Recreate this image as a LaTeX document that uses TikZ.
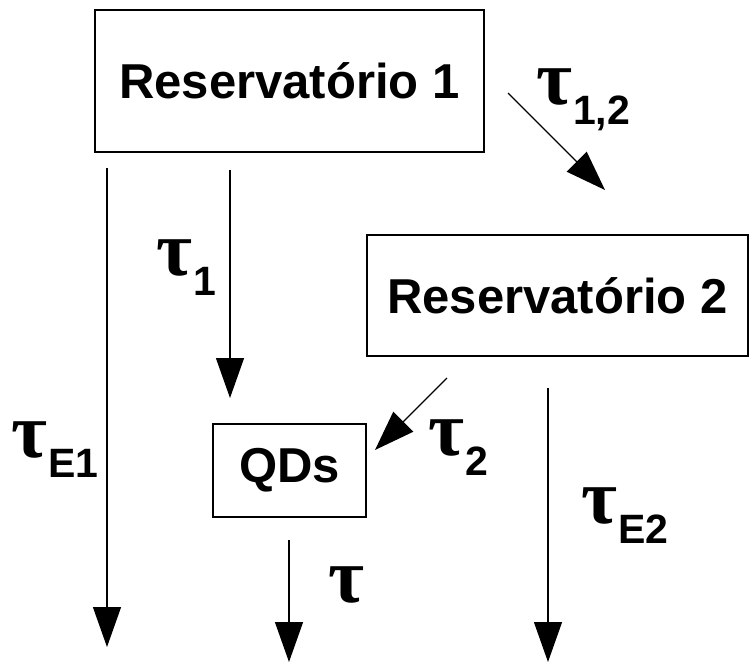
\documentclass[tikz,border=0pt]{standalone}
\usepackage{fontspec}
\setmainfont{Liberation Sans}
\newfontfamily\taufont{Liberation Serif}
\usetikzlibrary{arrows.meta}

\newcommand{\taulab}[1]{{\taufont\bfseries\fontsize{78}{78}\selectfont τ}\kern1pt\raisebox{-20pt}{\fontsize{41}{41}\selectfont\bfseries #1}}

\begin{document}
\begin{tikzpicture}[x=1pt, y=-1pt,
	box/.style={draw, line width=1.5pt, inner sep=0pt, font=\fontsize{49}{49}\selectfont\bfseries},
	flow/.style={line width=1.3pt, -{Triangle[width=28pt,length=40pt]}},
	lab/.style={anchor=base west, inner sep=0pt}]

	% Frame:
	\useasboundingbox (0, 0) rectangle (750, 662);

	% Boxes:
	\node[box, minimum width=389pt, minimum height=142pt](R1) at (289.5, 81){Reservatório 1};
	\node[box, minimum width=381pt, minimum height=121pt](R2) at (557.5, 295.5){Reservatório 2};
	\node[box, minimum width=153pt, minimum height=93pt](QD) at (289.5, 470.5){QDs};

	% Arrow ends:
	\coordinate (E1a) at (107, 168);
	\coordinate (E1b) at (107, 647);
	\coordinate (T1a) at (230, 170);
	\coordinate (T1b) at (230, 398);
	\coordinate (T12a) at (508, 93);
	\coordinate (T12b) at (605, 190);
	\coordinate (T2a) at (447, 378);
	\coordinate (T2b) at (375, 450);
	\coordinate (Ta) at (289, 540);
	\coordinate (Tb) at (289, 662);
	\coordinate (E2a) at (548, 388);
	\coordinate (E2b) at (548, 662);

	% Arrows:
	\draw[flow] (E1a) -- (E1b);
	\draw[flow] (T1a) -- (T1b);
	\draw[flow] (T12a) -- (T12b);
	\draw[flow] (T2a) -- (T2b);
	\draw[flow] (Ta) -- (Tb);
	\draw[flow] (E2a) -- (E2b);

	% Labels:
	\node[lab](LE1) at (11, 457){\taulab{E1}};
	\node[lab](L1) at (156, 275){\taulab{1}};
	\node[lab](L12) at (536, 104){\taulab{1,2}};
	\node[lab](L2) at (428, 455){\taulab{2}};
	\node[lab](L) at (328, 602){{\taufont\bfseries\fontsize{78}{78}\selectfont τ}};
	\node[lab](LE2) at (581, 523){\taulab{E2}};

\end{tikzpicture}
\end{document}
